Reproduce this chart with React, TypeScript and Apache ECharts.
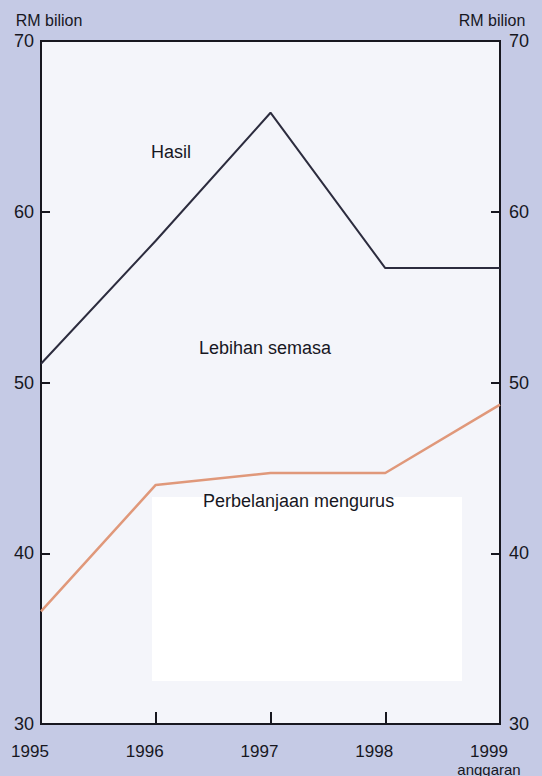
import React, { useEffect, useRef } from "react";
import * as echarts from "echarts";

const years = ["1995", "1996", "1997", "1998", "1999"];
const hasil = [51.1, 58.3, 65.8, 56.7, 56.7];
const perbelanjaanMengurus = [36.6, 44.0, 44.7, 44.7, 48.7];
const yTicks = { min: 30, max: 70, interval: 10 };
const unitLabel = "RM bilion";
const estimateLabel = "anggaran";
const annotations = [
  { text: "Hasil", left: 151, top: 153 },
  { text: "Lebihan semasa", left: 199, top: 349 },
  { text: "Perbelanjaan mengurus", left: 203, top: 502 },
];

const FONT = "'Liberation Sans', Arial, Helvetica, sans-serif";
const INK = "#17171f";

export default function App() {
  const ref = useRef<HTMLDivElement>(null);

  useEffect(() => {
    if (!ref.current) return;
    const chart = echarts.init(ref.current, null, { renderer: "svg" });
    const yAxisBase = {
      type: "value",
      min: yTicks.min,
      max: yTicks.max,
      interval: yTicks.interval,
      splitLine: { show: false },
      axisLine: { show: true, lineStyle: { color: INK, width: 2 } },
      axisTick: { show: true, inside: true, length: 9, lineStyle: { color: INK, width: 2 } },
      name: unitLabel,
      nameLocation: "end",
      nameGap: 13,
    };
    chart.setOption({
      animation: false,
      backgroundColor: "#c5cae5",
      textStyle: { fontFamily: FONT },
      grid: {
        left: 41,
        right: 42,
        top: 41,
        bottom: 52,
        containLabel: false,
        outerBoundsMode: "none",
        show: true,
        backgroundColor: "#f4f5fa",
        borderColor: INK,
        borderWidth: 2,
      },
      xAxis: {
        type: "category",
        data: years,
        boundaryGap: false,
        axisLine: { show: true, lineStyle: { color: INK, width: 2 } },
        axisTick: { show: true, inside: true, length: 12, interval: 0, lineStyle: { color: INK, width: 2 } },
        axisLabel: {
          interval: 0,
          hideOverlap: false,
          color: INK,
          fontSize: 17,
          fontFamily: FONT,
          margin: 18,
          padding: [0, 22, 0, 0],
          lineHeight: 18,
          formatter: (v: string) => (v === years[years.length - 1] ? `${v}\n{s|${estimateLabel}}` : v),
          rich: { s: { fontSize: 15, color: INK, fontFamily: FONT, lineHeight: 18 } },
        },
      },
      yAxis: [
        {
          ...yAxisBase,
          position: "left",
          axisLabel: { color: INK, fontSize: 18, fontFamily: FONT, margin: 7 },
          nameTextStyle: { color: INK, fontSize: 16, fontFamily: FONT, padding: [0, 0, 0, 16] },
        },
        {
          ...yAxisBase,
          position: "right",
          axisLabel: { color: INK, fontSize: 18, fontFamily: FONT, margin: 9 },
          nameTextStyle: { color: INK, fontSize: 16, fontFamily: FONT, padding: [0, 16, 0, 0] },
        },
      ],
      graphic: [
        {
          type: "rect",
          z: 1,
          shape: { x: 152, y: 497, width: 310, height: 184 },
          style: { fill: "#ffffff" },
          silent: true,
        },
        ...annotations.map((a) => ({
          type: "text",
          z: 10,
          left: a.left,
          top: a.top - 10,
          style: { text: a.text, fill: INK, font: `18px ${FONT}` },
          silent: true,
        })),
      ],
      series: [
        {
          name: "Hasil",
          type: "line",
          data: hasil,
          showSymbol: false,
          z: 5,
          lineStyle: { color: "#2c2c3e", width: 2 },
        },
        {
          name: "Perbelanjaan mengurus",
          type: "line",
          data: perbelanjaanMengurus,
          showSymbol: false,
          z: 5,
          lineStyle: { color: "#e0987a", width: 2.5 },
        },
      ],
    });
    return () => chart.dispose();
  }, []);

  return (
    <div
      ref={ref}
      style={{ position: "fixed", left: 0, top: 0, width: 542, height: 776 }}
    />
  );
}
